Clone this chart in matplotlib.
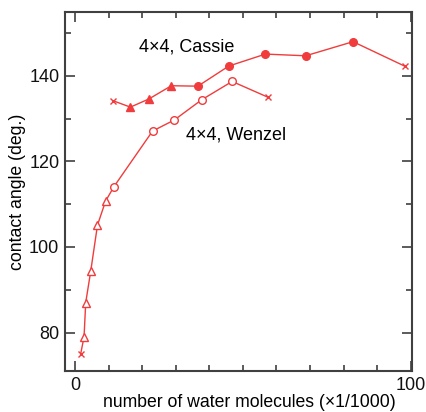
import numpy as np
import matplotlib.pyplot as plt
from matplotlib.ticker import MultipleLocator, FixedLocator

plt.rcParams['font.family'] = ['Liberation Sans', 'DejaVu Sans']

# Cassie series: (x, angle, marker)
cassie_x = [11.3, 16.5, 22.0, 28.7, 36.6, 45.8, 56.7, 68.7, 82.8, 98.4]
cassie_y = [134.2, 132.7, 134.6, 137.7, 137.6, 142.3, 145.1, 144.7, 148.0, 142.2]
cassie_m = ['x', '^', '^', '^', 'o', 'o', 'o', 'o', 'o', 'x']

# Wenzel series
wenzel_x = [1.7, 2.7, 3.2, 4.7, 6.7, 9.1, 11.6, 23.1, 29.6, 37.7, 46.8, 57.5]
wenzel_y = [75.0, 79.0, 87.0, 94.4, 105.1, 110.7, 114.1, 127.1, 129.7, 134.4, 138.7, 135.0]
wenzel_m = ['x', '^', '^', '^', '^', '^', 'o', 'o', 'o', 'o', 'o', 'x']

red = '#f03c3c'
axcol = '#404040'

fig = plt.figure(figsize=(4.27, 4.12), dpi=100)
ax = fig.add_axes([0.152, 0.0995, 0.814, 0.872])


def draw(xs, ys, ms, filled):
    ax.plot(xs, ys, '-', color=red, lw=1.0, zorder=2)
    for x, y, m in zip(xs, ys, ms):
        if m == 'x':
            ax.plot(x, y, 'x', color=red, ms=4.5, mew=1.0, zorder=3)
        else:
            ax.plot(x, y, m, color=red, ms=5.5, mew=1.0,
                    mfc=red if filled else 'white', zorder=3)


draw(cassie_x, cassie_y, cassie_m, True)
draw(wenzel_x, wenzel_y, wenzel_m, False)

ax.text(33.3, 146.8, '4×4, Cassie', fontsize=13, ha='center', va='center')
ax.text(47.9, 126.2, '4×4, Wenzel', fontsize=13, ha='center', va='center')

ax.set_xlim(-3, 100.5)
ax.set_ylim(71, 155)
ax.xaxis.set_major_locator(FixedLocator([0, 100]))
ax.xaxis.set_minor_locator(MultipleLocator(10))
ax.yaxis.set_major_locator(MultipleLocator(20))
ax.yaxis.set_minor_locator(MultipleLocator(10))
ax.tick_params(which='both', direction='in', top=True, right=True,
               color=axcol, width=1.2, labelsize=13, labelcolor='#111111')
ax.tick_params(which='major', length=7, pad=4)
ax.tick_params(which='minor', length=4)
for s in ax.spines.values():
    s.set_color(axcol)
    s.set_linewidth(1.5)

ax.set_xlabel('number of water molecules (×1/1000)', fontsize=12.7)
ax.xaxis.set_label_coords(0.53, -0.065)
ax.set_ylabel('contact angle (deg.)', fontsize=12.7, labelpad=2)

fig.savefig('out.png', dpi=100)
